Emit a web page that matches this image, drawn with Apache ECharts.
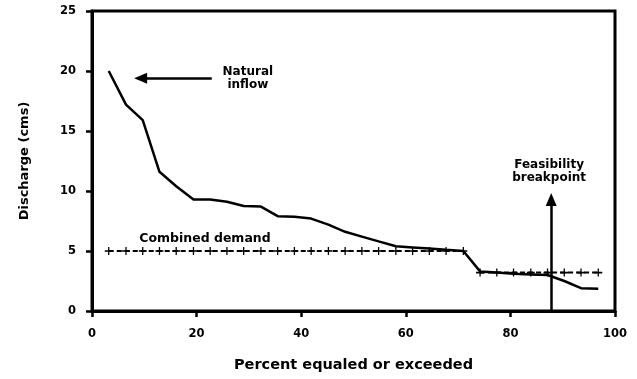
<!DOCTYPE html>
<html>
<head>
<meta charset="utf-8">
<script src="https://cdn.jsdelivr.net/npm/echarts@6/dist/echarts.min.js"></script>
<style>
  html, body { margin: 0; padding: 0; background: #fff; }
  #chart { width: 637px; height: 379px; }
</style>
</head>
<body>
<div id="chart"></div>
<script>
// Flow-duration curve: percent of time a discharge is equaled or exceeded
const percentExceeded = [3.2, 6.5, 9.7, 12.9, 16.1, 19.4, 22.6, 25.8, 29.0, 32.3,
                         35.5, 38.7, 41.9, 45.2, 48.4, 51.6, 54.8, 58.1, 61.3, 64.5,
                         67.7, 71.0, 74.2, 77.4, 80.6, 83.9, 87.1, 90.3, 93.5, 96.8];
const naturalInflow = [20.0, 17.2, 15.9, 11.6, 10.4, 9.3, 9.3, 9.1, 8.75, 8.7,
                       7.9, 7.85, 7.7, 7.2, 6.6, 6.2, 5.8, 5.4, 5.3, 5.2,
                       5.1, 5.0, 3.3, 3.2, 3.1, 3.05, 3.0, 2.5, 1.9, 1.85];

// Combined demand, in two steps
const demandHighX = [3.2, 6.5, 9.7, 12.9, 16.1, 19.4, 22.6, 25.8, 29.0, 32.3, 35.5,
                     38.7, 41.9, 45.2, 48.4, 51.6, 54.8, 58.1, 61.3, 64.5, 67.7, 71.0];
const demandHigh = [5, 5, 5, 5, 5, 5, 5, 5, 5, 5, 5, 5, 5, 5, 5, 5, 5, 5, 5, 5, 5, 5];
const demandLowX = [74.2, 77.4, 80.6, 83.9, 87.1, 90.3, 93.5, 96.8];
const demandLow = [3.2, 3.2, 3.2, 3.2, 3.2, 3.2, 3.2, 3.2];

// Axis ticks
const xTicks = [0, 20, 40, 60, 80, 100];
const yTicks = [0, 5, 10, 15, 20, 25];

// Annotation arrows: [start, end] in data units (end = centre of the arrowhead)
const inflowArrow = [[22.9, 19.4], [9.3, 19.4]];
const breakpointArrow = [[87.8, 0], [87.8, 9.3]];

// Annotation text anchors
const noteText = ['Natural\ninflow', 'Feasibility\nbreakpoint', 'Combined demand'];
const noteX = [29.8, 87.4, 21.6];
const noteY = [19.4, 11.6, 6.0];

const FONT = 'DejaVu Sans';
const pairs = (xs, ys) => xs.map((x, i) => [x, ys[i]]);
const plusSymbol = 'path://M0,4.2H10V5.8H0Z M4.2,1H5.8V9H4.2Z';

const chart = echarts.init(document.getElementById('chart'), null, { renderer: 'canvas' });

const option = {
  animation: false,
  backgroundColor: '#fff',
  grid: {
    left: 92, right: 22, top: 11, bottom: 68,
    show: true, borderColor: '#000', borderWidth: 3, backgroundColor: 'transparent'
  },
  xAxis: {
    type: 'value',
    min: xTicks[0], max: xTicks[xTicks.length - 1], interval: 20,
    name: 'Percent equaled or exceeded',
    nameLocation: 'middle', nameGap: 47,
    nameTextStyle: { fontFamily: FONT, fontWeight: 'bold', fontSize: 14.5, color: '#000' },
    axisLine: { show: true, lineStyle: { color: '#000', width: 3 } },
    axisTick: { show: true, inside: false, length: 6, lineStyle: { color: '#000', width: 2.5 } },
    axisLabel: { margin: 17, fontFamily: FONT, fontWeight: 'bold', fontSize: 11.5, color: '#000' },
    splitLine: { show: false }
  },
  yAxis: {
    type: 'value',
    min: yTicks[0], max: yTicks[yTicks.length - 1], interval: 5,
    name: 'Discharge (cms)',
    nameLocation: 'middle', nameGap: 61, nameRotate: 90,
    nameTextStyle: { fontFamily: FONT, fontWeight: 'bold', fontSize: 13, color: '#000' },
    axisLine: { show: true, lineStyle: { color: '#000', width: 3 } },
    axisTick: { show: true, inside: false, length: 6, lineStyle: { color: '#000', width: 2.5 } },
    axisLabel: { margin: 16, fontFamily: FONT, fontWeight: 'bold', fontSize: 11.5, color: '#000' },
    splitLine: { show: false }
  },
  series: [
    {
      name: 'Natural inflow',
      type: 'line',
      data: pairs(percentExceeded, naturalInflow),
      symbol: 'none',
      lineStyle: { color: '#000', width: 2.5 },
      z: 3,
      markLine: {
        silent: true,
        symbol: ['none', 'triangle'],
        symbolSize: [11, 13],
        label: { show: false },
        lineStyle: { color: '#000', width: 2.5, type: 'solid' },
        data: [
          [{ coord: inflowArrow[0] }, { coord: inflowArrow[1] }],
          [{ coord: breakpointArrow[0] }, { coord: breakpointArrow[1] }]
        ]
      },
      markPoint: {
        silent: true,
        symbol: 'circle',
        symbolSize: 0,
        data: noteText.map((t, i) => ({
          coord: [noteX[i], noteY[i]],
          label: {
            show: true, position: 'inside', formatter: t,
            fontFamily: FONT, fontWeight: 'bold',
            fontSize: i === 2 ? 12.5 : 12, lineHeight: 13,
            color: '#000', align: 'center'
          }
        }))
      }
    },
    {
      name: 'Combined demand',
      type: 'line',
      data: pairs(demandHighX, demandHigh),
      symbol: plusSymbol,
      symbolSize: 8,
      itemStyle: { color: '#000' },
      lineStyle: { color: '#000', width: 2, type: [5, 3] },
      z: 2
    },
    {
      name: 'Combined demand (low)',
      type: 'line',
      data: pairs(demandLowX, demandLow),
      symbol: plusSymbol,
      symbolSize: 8,
      itemStyle: { color: '#000' },
      lineStyle: { color: '#000', width: 2, type: [5, 3] },
      z: 2
    }
  ]
};

chart.setOption(option);
</script>
</body>
</html>
